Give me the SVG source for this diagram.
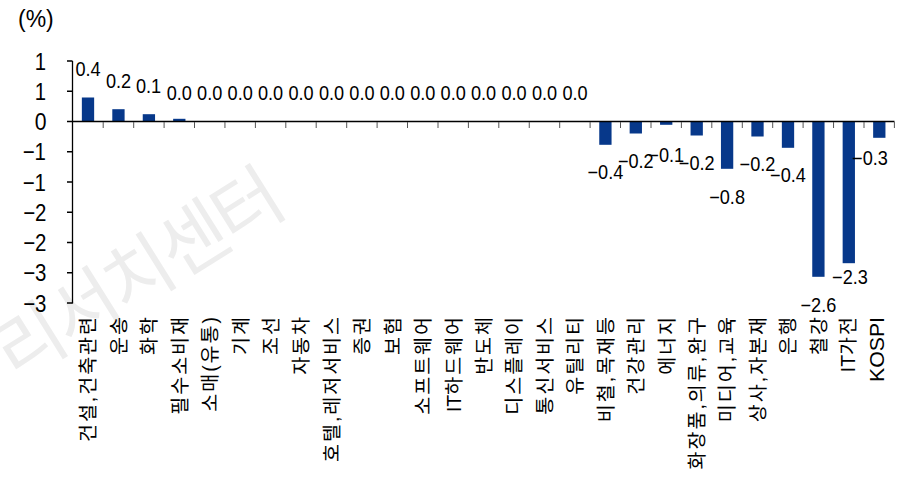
<svg xmlns="http://www.w3.org/2000/svg" width="899" height="482" viewBox="0 0 899 482">
<style>
.num{font-family:"Liberation Sans",Arial,sans-serif;fill:#000}
.val{font-size:19.5px;text-anchor:middle}
.ytl{font-size:24px;text-anchor:end}
.cat{font-family:"Liberation Sans","Noto Sans CJK KR",sans-serif;font-size:19.5px;letter-spacing:2px;text-anchor:end;fill:#000}
.lat{letter-spacing:0}
.bar{fill:#07388a}
.ax{stroke:#000;stroke-width:1.3;fill:none}
.tk{stroke:#555;stroke-width:1;fill:none}
.wm{font-family:"Noto Sans CJK KR",sans-serif;font-size:74px;letter-spacing:-4px;fill:#ededed;text-anchor:middle}
</style>
<rect width="899" height="482" fill="#fff"/>
<g id="watermark">
<text class="wm" transform="translate(151,297) rotate(-32)">리서치센터</text>
</g>
<text id="unit" class="num" x="18" y="27" font-size="23">(%)</text>
<g id="bars">
<rect class="bar" x="81.85" y="97.5" width="12.3" height="24"/>
<rect class="bar" x="112.3" y="109.2" width="12.3" height="12.3"/>
<rect class="bar" x="142.75" y="114.2" width="12.3" height="7.3"/>
<rect class="bar" x="173.15" y="118.8" width="12.3" height="2.7"/>
<rect class="bar" x="599.25" y="121.5" width="12.3" height="23.3"/>
<rect class="bar" x="629.65" y="121.5" width="12.3" height="12"/>
<rect class="bar" x="660.05" y="121.5" width="12.3" height="3.3"/>
<rect class="bar" x="690.55" y="121.5" width="12.3" height="14"/>
<rect class="bar" x="720.95" y="121.5" width="12.3" height="47.3"/>
<rect class="bar" x="751.35" y="121.5" width="12.3" height="15"/>
<rect class="bar" x="781.85" y="121.5" width="12.3" height="26.3"/>
<rect class="bar" x="812.25" y="121.5" width="12.3" height="155.3"/>
<rect class="bar" x="842.65" y="121.5" width="12.3" height="141.7"/>
<rect class="bar" x="873.15" y="121.5" width="12.3" height="16.3"/>
</g>
<g id="axes">
<path class="ax" d="M72.5 61V303.5"/>
<path class="ax" d="M72.5 121.5H894.5"/>
<path class="ax" d="M67 61H72.5M67 91.25H72.5M67 121.5H72.5M67 151.75H72.5M67 182H72.5M67 212.25H72.5M67 242.5H72.5M67 272.75H72.5M67 303H72.5"/>
<path class="tk" d="M103.2 122V128M133.7 122V128M164.1 122V128M194.5 122V128M224.95 122V128M255.4 122V128M285.8 122V128M316.2 122V128M346.7 122V128M377.1 122V128M407.5 122V128M438 122V128M468.4 122V128M498.8 122V128M529.25 122V128M559.7 122V128M590.1 122V128M620.5 122V128M651 122V128M681.4 122V128M711.8 122V128M742.3 122V128M772.7 122V128M803.1 122V128M833.55 122V128M864 122V128M894.4 122V128"/>
</g>
<g id="y-labels" class="num ytl">
<text x="46" y="69.5" textLength="11.3" lengthAdjust="spacingAndGlyphs">1</text>
<text x="46" y="99.7" textLength="11.3" lengthAdjust="spacingAndGlyphs">1</text>
<text x="46.5" y="130" textLength="11.8" lengthAdjust="spacingAndGlyphs">0</text>
<text x="46" y="160.2" textLength="23.3" lengthAdjust="spacingAndGlyphs">−1</text>
<text x="46" y="190.5" textLength="23.3" lengthAdjust="spacingAndGlyphs">−1</text>
<text x="46.5" y="220.7" textLength="23.3" lengthAdjust="spacingAndGlyphs">−2</text>
<text x="46.5" y="251" textLength="23.3" lengthAdjust="spacingAndGlyphs">−2</text>
<text x="46.5" y="281.2" textLength="23.3" lengthAdjust="spacingAndGlyphs">−3</text>
<text x="46.5" y="311.5" textLength="23.3" lengthAdjust="spacingAndGlyphs">−3</text>
</g>
<g id="value-labels" class="num val">
<text x="88" y="76" textLength="25.2" lengthAdjust="spacingAndGlyphs">0.4</text>
<text x="118.5" y="88" textLength="25.2" lengthAdjust="spacingAndGlyphs">0.2</text>
<text x="148.5" y="93" textLength="25.2" lengthAdjust="spacingAndGlyphs">0.1</text>
<text x="179.3" y="100" textLength="25.2" lengthAdjust="spacingAndGlyphs">0.0</text>
<text x="209.7" y="100" textLength="25.2" lengthAdjust="spacingAndGlyphs">0.0</text>
<text x="240.2" y="100" textLength="25.2" lengthAdjust="spacingAndGlyphs">0.0</text>
<text x="270.6" y="100" textLength="25.2" lengthAdjust="spacingAndGlyphs">0.0</text>
<text x="301" y="100" textLength="25.2" lengthAdjust="spacingAndGlyphs">0.0</text>
<text x="331.5" y="100" textLength="25.2" lengthAdjust="spacingAndGlyphs">0.0</text>
<text x="361.9" y="100" textLength="25.2" lengthAdjust="spacingAndGlyphs">0.0</text>
<text x="392.3" y="100" textLength="25.2" lengthAdjust="spacingAndGlyphs">0.0</text>
<text x="422.8" y="100" textLength="25.2" lengthAdjust="spacingAndGlyphs">0.0</text>
<text x="453.2" y="100" textLength="25.2" lengthAdjust="spacingAndGlyphs">0.0</text>
<text x="483.6" y="100" textLength="25.2" lengthAdjust="spacingAndGlyphs">0.0</text>
<text x="514.1" y="100" textLength="25.2" lengthAdjust="spacingAndGlyphs">0.0</text>
<text x="544.5" y="100" textLength="25.2" lengthAdjust="spacingAndGlyphs">0.0</text>
<text x="575" y="100" textLength="25.2" lengthAdjust="spacingAndGlyphs">0.0</text>
<text x="605.4" y="179.3" textLength="35.8" lengthAdjust="spacingAndGlyphs">−0.4</text>
<text x="635.8" y="168.3" textLength="35.8" lengthAdjust="spacingAndGlyphs">−0.2</text>
<text x="666.2" y="161.7" textLength="35.8" lengthAdjust="spacingAndGlyphs">−0.1</text>
<text x="696.7" y="170" textLength="35.8" lengthAdjust="spacingAndGlyphs">−0.2</text>
<text x="727.1" y="204" textLength="35.8" lengthAdjust="spacingAndGlyphs">−0.8</text>
<text x="757.5" y="170.7" textLength="35.8" lengthAdjust="spacingAndGlyphs">−0.2</text>
<text x="788" y="181.7" textLength="35.8" lengthAdjust="spacingAndGlyphs">−0.4</text>
<text x="818.4" y="311.7" textLength="35.8" lengthAdjust="spacingAndGlyphs">−2.6</text>
<text x="850" y="284" textLength="35.8" lengthAdjust="spacingAndGlyphs">−2.3</text>
<text x="870" y="165" textLength="35.8" lengthAdjust="spacingAndGlyphs">−0.3</text>
</g>
<g id="category-labels" class="cat">
<text transform="translate(95.3,315) rotate(-90)">건설,건축관련</text>
<text transform="translate(125.75,315) rotate(-90)">운송</text>
<text transform="translate(156.2,315) rotate(-90)">화학</text>
<text transform="translate(186.6,315) rotate(-90)">필수소비재</text>
<text transform="translate(217,315) rotate(-90)">소매(유통)</text>
<text transform="translate(247.5,315) rotate(-90)">기계</text>
<text transform="translate(277.9,315) rotate(-90)">조선</text>
<text transform="translate(308.3,315) rotate(-90)">자동차</text>
<text transform="translate(338.8,315) rotate(-90)">호텔,레저서비스</text>
<text transform="translate(369.2,315) rotate(-90)">증권</text>
<text transform="translate(399.6,315) rotate(-90)">보험</text>
<text transform="translate(430.1,315) rotate(-90)">소프트웨어</text>
<text transform="translate(460.5,315) rotate(-90)"><tspan class="lat">IT</tspan>하드웨어</text>
<text transform="translate(490.9,315) rotate(-90)">반도체</text>
<text transform="translate(521.4,315) rotate(-90)">디스플레이</text>
<text transform="translate(551.8,315) rotate(-90)">통신서비스</text>
<text transform="translate(582.3,315) rotate(-90)">유틸리티</text>
<text transform="translate(612.7,315) rotate(-90)">비철,목재등</text>
<text transform="translate(643.1,315) rotate(-90)">건강관리</text>
<text transform="translate(673.5,315) rotate(-90)">에너지</text>
<text transform="translate(704,315) rotate(-90)">화장품,의류,완구</text>
<text transform="translate(734.4,315) rotate(-90)">미디어,교육</text>
<text transform="translate(764.8,315) rotate(-90)">상사,자본재</text>
<text transform="translate(795.3,315) rotate(-90)">은행</text>
<text transform="translate(825.7,315) rotate(-90)">철강</text>
<text transform="translate(854.5,315) rotate(-90)"><tspan class="lat">IT</tspan>가전</text>
<text transform="translate(884,317) rotate(-90)" class="lat" textLength="65" lengthAdjust="spacingAndGlyphs">KOSPI</text>
</g>
</svg>
